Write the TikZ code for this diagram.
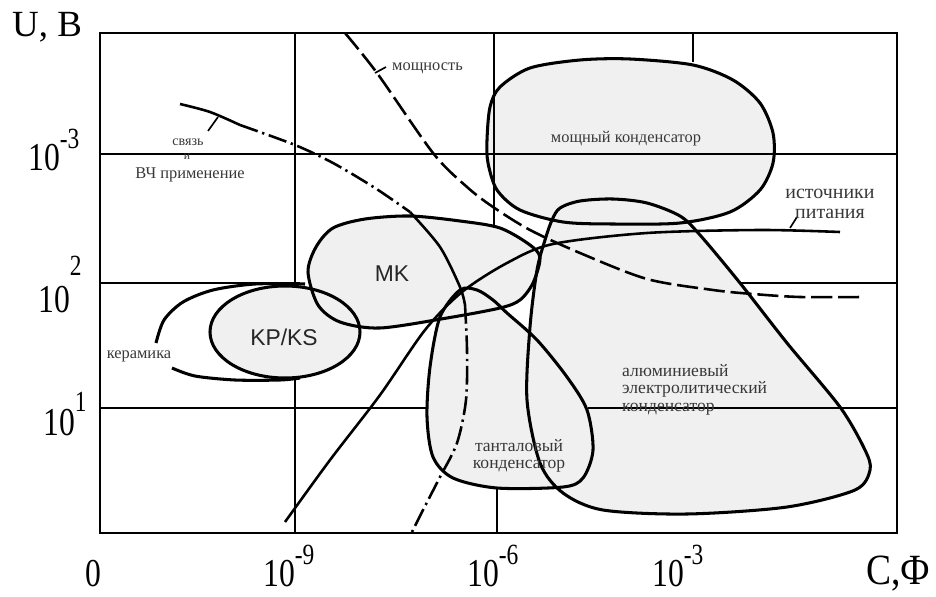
\documentclass[tikz,border=0pt]{standalone}
\usepackage{fontspec}
\setmainfont{Liberation Serif}
\setsansfont{Liberation Sans}
\usepackage{graphicx}

\definecolor{regfill}{gray}{0.94}
\definecolor{txtgray}{gray}{0.22}

% 10 with a raised exponent, stretched like the scan
\newcommand{\tenpow}[2]{\scalebox{1}[1.25]{10\raisebox{#2}{\fontsize{20}{20}\selectfont #1}}}

% outlines of the regions
\newcommand{\mospath}{plot[smooth cycle] coordinates {(487,140) (490,107) (500,87) (530,68) (580,60) (630,59) (693,65) (733,80) (760,103) (773,133) (773,163) (760,190) (730,212) (680,223) (613,224) (563,222) (520,210) (497,190) (488,163)}}
\newcommand{\alupath}{plot[smooth cycle] coordinates {(552,220) (560,208) (580,201) (613,199) (647,203) (680,216) (700,235) (740,283) (787,343) (840,407) (865,450) (870,470) (855,490) (787,507) (687,514) (603,510) (563,493) (540,463) (527,400) (530,327) (537,270) (545,240)}}
\newcommand{\tanpath}{plot[smooth cycle] coordinates {(460,290) (477,290) (493,300) (507,313) (537,340) (567,377) (587,410) (593,450) (583,478) (563,487) (497,488) (453,478) (433,457) (427,417) (430,367) (440,317)}}
\newcommand{\mkpath}{plot[smooth cycle] coordinates {(308,272) (316,247) (333,228) (365,219) (410,216) (460,221) (500,228) (530,245) (540,258) (533,283) (520,300) (500,308) (447,318) (380,328) (340,322) (318,305)}}
\newcommand{\kppath}{(285,332) ellipse [x radius=75, y radius=46]}

\begin{document}
\begin{tikzpicture}
  [x=0.03cm,y=-0.03cm,
   gridl/.style={line width=2.2pt},
   region/.style={line width=2.6pt},
   curve/.style={line width=2.2pt},
   dashcurve/.style={line width=2.2pt,dash pattern=on 18pt off 5pt},
   dotdash/.style={line width=2.2pt,dash pattern=on 16pt off 4pt on 2pt off 4pt},
   lbl/.style={text=txtgray,inner sep=0pt,font=\fontsize{14}{15}\selectfont},
   biglbl/.style={text=black!85,inner sep=0pt,font=\sffamily\fontsize{19.5}{20}\selectfont},
   axlbl/.style={anchor=base west,inner sep=0pt,font=\fontsize{27}{27}\selectfont}]
  \useasboundingbox (0,0) rectangle (936,597);

  % filled regions
  \fill[regfill] \mospath;
  \fill[regfill] \alupath;
  \fill[regfill] \tanpath;
  \fill[regfill] \mkpath;
  \fill[regfill] \kppath;

  % grid, only the visible parts
  \draw[gridl] (100,33) rectangle (897,533);
  \draw[gridl] (100,154) -- (897,154);
  \draw[gridl] (100,283) -- (300,283);
  \draw[gridl] (740,283) -- (897,283);
  \draw[gridl] (100,408) -- (428,408);
  \draw[gridl] (588,408) -- (897,408);
  \draw[gridl] (295,33) -- (295,283);
  \draw[gridl] (295,378) -- (295,533);
  \draw[gridl] (494,33) -- (494,228);
  \draw[gridl] (693,33) -- (693,62);
  \draw[gridl] (497,487) -- (497,533);

  % region outlines
  \draw[region] \mospath;
  \draw[region] \alupath;
  \draw[region] \tanpath;
  \draw[region] \mkpath;
  \draw[region] \kppath;
  \draw[region] plot[smooth] coordinates {(156,343) (164,320) (183,302) (213,290) (255,284) (305,284)};
  \draw[region] plot[smooth] coordinates {(172,368) (195,376) (235,380) (280,380) (300,378)};

  % curves
  \draw[curve] plot[smooth] coordinates {(285,522) (330,460) (380,395) (425,330) (462,292) (507,263) (553,244) (647,233) (760,230) (840,232)};
  \draw[dashcurve] plot[smooth] coordinates {(345,33) (377,73) (433,153) (467,187) (493,207) (530,230) (580,253) (647,279) (713,290) (753,294) (800,297) (863,297)};
  \draw[curve] plot[smooth] coordinates {(180,104) (210,112) (240,125)};
  \draw[dotdash] plot[smooth] coordinates {(240,125) (295,145) (333,163) (375,188) (410,212)};
  \draw[curve] plot[smooth] coordinates {(410,212) (440,247) (460,287) (465,305)};
  \draw[dotdash] plot[smooth] coordinates {(465,305) (467,350) (466,400) (457,443) (440,477) (423,510) (412,532)};

  % leaders
  \draw[line width=1.4pt] (375,73) -- (386,67);
  \draw[line width=1.4pt] (208,131) -- (218,117);
  \draw[line width=1.4pt] (790,228) -- (797,217);

  % labels in the chart
  \node[lbl] (tmos) at (626,139) {мощный конденсатор};
  \node[lbl,anchor=west] (tmosh) at (392,68) {мощность};
  \node[lbl,font=\fontsize{12}{13}\selectfont] (tsv) at (188,142) {связь};
  \node[lbl,font=\fontsize{10}{11}\selectfont] (ti) at (187,157) {и};
  \node[lbl] (tvch) at (190,175) {ВЧ применение};
  \node[lbl] (tker) at (139,356) {керамика};
  \node[lbl,align=center,font=\fontsize{17}{17}\selectfont] (tist) at (830,204) {источники\\питания};
  \node[lbl,align=center,font=\fontsize{15}{15}\selectfont] (ttan) at (519,456) {танталовый\\конденсатор};
  \node[lbl,align=left,anchor=north west,font=\fontsize{15}{15}\selectfont] (talu) at (622,364) {алюминиевый\\электролитический\\конденсатор};
  \node[biglbl] (tkp) at (284,337) {KP/KS};
  \node[biglbl] (tmk) at (392,274) {MK};

  % axes
  \node[axlbl,font=\fontsize{31.5}{32}\selectfont] (uax) at (12,37) {U, B};
  \node[axlbl] (y3) at (28,170) {\tenpow{-3}{15pt}};
  \node[axlbl] (y2) at (38,312) {\tenpow{2}{25pt}};
  \node[axlbl] (y1) at (43,435) {\tenpow{1}{16pt}};
  \node[axlbl] (x0) at (85,586) {\scalebox{1}[1.25]{0}};
  \node[axlbl] (x9) at (263,586) {\tenpow{-9}{15pt}};
  \node[axlbl] (x6) at (467,586) {\tenpow{-6}{15pt}};
  \node[axlbl] (x3) at (652,586) {\tenpow{-3}{15pt}};
  \node[axlbl,font=\fontsize{32}{32}\selectfont] (cax) at (866,584) {\scalebox{1}[1.15]{C,Ф}};
\end{tikzpicture}
\end{document}
